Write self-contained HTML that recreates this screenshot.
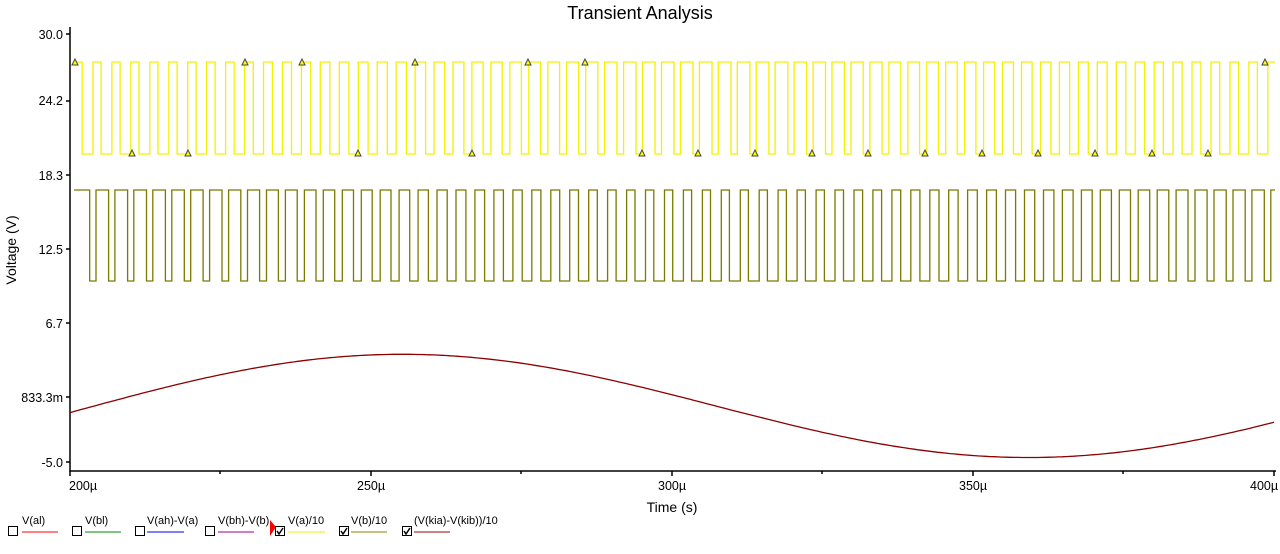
<!DOCTYPE html>
<html><head><meta charset="utf-8"><style>
html,body{margin:0;padding:0;background:#fff;width:1280px;height:554px;overflow:hidden}
svg{display:block}
text{font-family:"Liberation Sans",sans-serif;fill:#000}
</style></head><body>
<svg id="s" width="1280" height="554" viewBox="0 0 1280 554">
<text x="640" y="19" font-size="18" text-anchor="middle">Transient Analysis</text>
<text x="0" y="0" font-size="14" text-anchor="middle" transform="translate(16,250) rotate(-90)">Voltage (V)</text>
<text x="672" y="512" font-size="14" text-anchor="middle">Time (s)</text>
<g font-size="12.5" text-anchor="end">
<text x="63" y="39">30.0</text>
<text x="63" y="105">24.2</text>
<text x="63" y="180">18.3</text>
<text x="63" y="254">12.5</text>
<text x="63" y="328">6.7</text>
<text x="63" y="402">833.3m</text>
<text x="63" y="467">-5.0</text>
</g>
<g font-size="12.5">
<text x="69" y="490">200µ</text>
<text x="357" y="490">250µ</text>
<text x="658" y="490">300µ</text>
<text x="959" y="490">350µ</text>
<text x="1250" y="490">400µ</text>
</g>
<g stroke="#000" stroke-width="1.5" fill="none">
<path d="M70,27V471H1276"/>
<path d="M66,34H70M66,101H70M66,175H70M66,249H70M66,323H70M66,397H70M66,462H70"/>
<path d="M70,471V476M371,471V476M672,471V476M973,471V476M1274,471V476"/>
<path d="M220,471V474M521,471V474M822,471V474M1123,471V474"/>
</g>
<g id="plots"></g>
<g font-size="11">
<rect x="8.5" y="526.5" width="9" height="9" fill="none" stroke="#000"/><text x="22" y="524">V(al)</text><path d="M22,532H58" stroke="#f00"/>
<rect x="72.5" y="526.5" width="9" height="9" fill="none" stroke="#000"/><text x="85" y="524">V(bl)</text><path d="M85,532H121" stroke="#080"/>
<rect x="135.5" y="526.5" width="9" height="9" fill="none" stroke="#000"/><text x="147" y="524">V(ah)-V(a)</text><path d="M147,532H184" stroke="#00f"/>
<rect x="205.5" y="526.5" width="9" height="9" fill="none" stroke="#000"/><text x="218" y="524">V(bh)-V(b)</text><path d="M218,532H254" stroke="#909"/>
<path d="M270,520L276,527L270,536Z" fill="#f00"/>
<rect x="275.5" y="526.5" width="9" height="9" fill="none" stroke="#000"/><path d="M277,531l2,3l4,-6" stroke="#000" fill="none" stroke-width="1.5"/><text x="288" y="524">V(a)/10</text><path d="M288,532H325" stroke="#ee0"/>
<rect x="339.5" y="526.5" width="9" height="9" fill="none" stroke="#000"/><path d="M341,531l2,3l4,-6" stroke="#000" fill="none" stroke-width="1.5"/><text x="351" y="524">V(b)/10</text><path d="M351,532H387" stroke="#880"/>
<rect x="402.5" y="526.5" width="9" height="9" fill="none" stroke="#000"/><path d="M404,531l2,3l4,-6" stroke="#000" fill="none" stroke-width="1.5"/><text x="414" y="524">(V(kia)-V(kib))/10</text><path d="M414,532H450" stroke="#900"/>
</g>
</svg>
<script>
(function(){
var g=document.getElementById('plots'),NS='http://www.w3.org/2000/svg';
function pl(d,c,w){var p=document.createElementNS(NS,'path');p.setAttribute('d',d);p.setAttribute('stroke',c);p.setAttribute('stroke-width',w||1.3);p.setAttribute('fill','none');g.appendChild(p);}
var P=18.95,x0=74,x1=1275;
function sq(hi,lo,ph,sgn){var d='M'+x0+','+hi,x=x0,k=0;
 while(x<x1){var xc=x0+k*P+ph;var duty=0.55+sgn*0.12*Math.sin(2*Math.PI*(xc-410)/1260);
  var a=Math.min(xc+P*duty,x1),b=Math.min(xc+P,x1);
  d+='H'+a.toFixed(1);if(a<x1){d+='V'+lo+'H'+b.toFixed(1);if(b<x1)d+='V'+hi;}
  x=b;k++;}
 return d;}
pl(sq(62,154,0,1),'#f2f200');
pl(sq(190,281,3,-1),'#7a7a00');
var d='';for(var x=x0-4;x<=x1;x+=4){var y=406.5-53.5*Math.cos(2*Math.PI*(x-398)/1270)-0.006*(x-700)+((x/4)%2==0?1:-0.5);d+=(d?'L':'M')+x+','+y.toFixed(1);}
pl(d,'#8b0000',1.3);
var top=[75,245,302,415,528,585,1265],bot=[132,188,358,472,642,698,755,812,868,925,982,1038,1095,1152,1208];
function tri(x,y){var p=document.createElementNS(NS,'path');p.setAttribute('d','M'+(x-3)+','+(y+3)+'L'+x+','+(y-3)+'L'+(x+3)+','+(y+3)+'Z');p.setAttribute('stroke','#444');p.setAttribute('fill','#ff0');p.setAttribute('stroke-width','1');g.appendChild(p);}
top.forEach(function(x){tri(x,62)});bot.forEach(function(x){tri(x,153)});
})();
</script>
</body></html>
